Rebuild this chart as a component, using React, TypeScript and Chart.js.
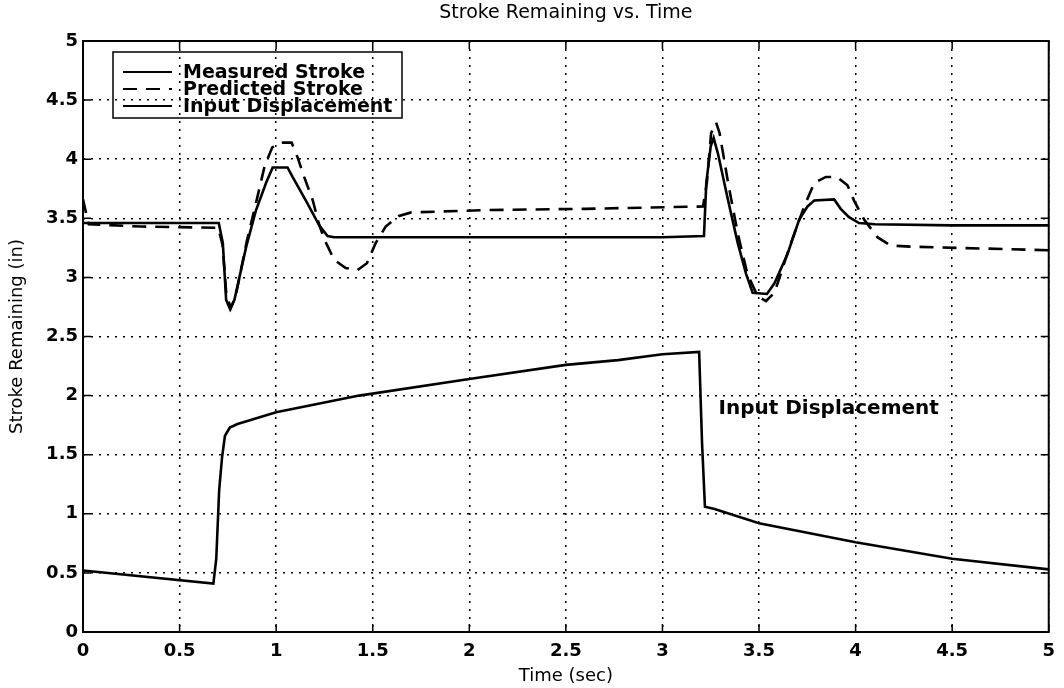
import React, { useEffect, useRef } from "react";
import { Chart, registerables } from "chart.js";

Chart.register(...registerables);

// ---------- data ----------
const chartTitle = "Stroke Remaining vs. Time";
const xAxisTitle = "Time (sec)";
const yAxisTitle = "Stroke Remaining (in)";

const xTicks = [0, 0.5, 1, 1.5, 2, 2.5, 3, 3.5, 4, 4.5, 5];
const xTickLabels = ["0", "0.5", "1", "1.5", "2", "2.5", "3", "3.5", "4", "4.5", "5"];
const yTicks = [0, 0.5, 1, 1.5, 2, 2.5, 3, 3.5, 4, 4.5, 5];
const yTickLabels = ["0", "0.5", "1", "1.5", "2", "2.5", "3", "3.5", "4", "4.5", "5"];

const seriesNames = ["Measured Stroke", "Predicted Stroke", "Input Displacement"];

const measuredTime = [0, 0.703, 0.724, 0.741, 0.762, 0.784, 0.845, 0.896, 0.948, 0.982, 1.059, 1.085, 1.154, 1.223, 1.266, 1.3, 2.0, 2.5, 3.0, 3.215, 3.227, 3.25, 3.265, 3.287, 3.34, 3.39, 3.433, 3.467, 3.541, 3.58, 3.648, 3.708, 3.751, 3.786, 3.889, 3.923, 3.966, 4.018, 4.1, 4.5, 5.0];
const measuredStroke = [3.46, 3.46, 3.29, 2.81, 2.73, 2.81, 3.26, 3.57, 3.8, 3.93, 3.93, 3.85, 3.65, 3.44, 3.35, 3.34, 3.34, 3.34, 3.34, 3.35, 3.8, 4.11, 4.18, 4.05, 3.65, 3.29, 3.03, 2.87, 2.86, 2.95, 3.2, 3.49, 3.6, 3.65, 3.66, 3.58, 3.51, 3.46, 3.45, 3.44, 3.44];

const predictedTime = [0, 0.015, 0.03, 0.3, 0.7, 0.722, 0.742, 0.765, 0.79, 0.85, 0.9, 0.94, 0.98, 1.02, 1.08, 1.11, 1.145, 1.19, 1.22, 1.25, 1.3, 1.36, 1.42, 1.47, 1.515, 1.567, 1.636, 1.7, 2.1, 2.6, 3.21, 3.23, 3.252, 3.278, 3.296, 3.34, 3.39, 3.44, 3.493, 3.536, 3.58, 3.665, 3.734, 3.786, 3.846, 3.903, 3.958, 3.992, 4.044, 4.113, 4.181, 4.284, 5.0];
const predictedStroke = [3.66, 3.55, 3.45, 3.43, 3.42, 3.28, 2.86, 2.74, 2.84, 3.32, 3.66, 3.94, 4.1, 4.14, 4.14, 4.02, 3.85, 3.65, 3.46, 3.32, 3.15, 3.08, 3.06, 3.12, 3.29, 3.43, 3.52, 3.55, 3.57, 3.58, 3.6, 3.8, 4.22, 4.31, 4.22, 3.8, 3.37, 3.03, 2.84, 2.8, 2.87, 3.29, 3.6, 3.8, 3.85, 3.85, 3.78, 3.65, 3.49, 3.34, 3.27, 3.26, 3.23];

const inputTime = [0, 0.675, 0.69, 0.705, 0.72, 0.735, 0.76, 0.8, 1.0, 1.43, 2.0, 2.5, 2.77, 3.0, 3.19, 3.205, 3.22, 3.27, 3.5, 4.0, 4.5, 5.0];
const inputDisplacement = [0.52, 0.41, 0.62, 1.2, 1.48, 1.66, 1.73, 1.76, 1.86, 2.0, 2.14, 2.26, 2.3, 2.35, 2.37, 1.6, 1.06, 1.04, 0.92, 0.76, 0.62, 0.53];

const annotationText = "Input Displacement";
const annotationTime = 3.29;
const annotationValue = 1.89;

// ---------- helpers ----------
const FONT = "'DejaVu Sans', sans-serif";

const toPoints = (xs: number[], ys: number[]) => xs.map((x, i) => ({ x, y: ys[i] }));

const labelFor = (vals: number[], labels: string[]) => (v: any) => {
  const n = Math.round(Number(v) * 2) / 2;
  const i = vals.indexOf(n);
  return i >= 0 ? labels[i] : "";
};

const framePlugin = {
  id: "matlabFrame",
  afterDraw(chart: any) {
    const { ctx, chartArea: a, scales } = chart;
    const xs = scales.x;
    const ys = scales.y;
    ctx.save();
    ctx.setLineDash([]);
    ctx.strokeStyle = "#000";
    // axes box
    ctx.lineWidth = 2;
    ctx.strokeRect(a.left, a.top, a.right - a.left, a.bottom - a.top);
    // inward ticks on all sides
    ctx.lineWidth = 1.5;
    const tl = 8;
    ctx.beginPath();
    for (const v of xTicks) {
      const px = xs.getPixelForValue(v);
      ctx.moveTo(px, a.bottom);
      ctx.lineTo(px, a.bottom - tl);
      ctx.moveTo(px, a.top);
      ctx.lineTo(px, a.top + tl);
    }
    for (const v of yTicks) {
      const py = ys.getPixelForValue(v);
      ctx.moveTo(a.left, py);
      ctx.lineTo(a.left + tl, py);
      ctx.moveTo(a.right, py);
      ctx.lineTo(a.right - tl, py);
    }
    ctx.stroke();

    // legend box
    const lx = a.left + 30;
    const ly = a.top + 11;
    const lw = 289;
    const lh = 66;
    ctx.lineWidth = 1.5;
    ctx.strokeRect(lx, ly, lw, lh);
    ctx.font = `bold 19px ${FONT}`;
    ctx.fillStyle = "#000";
    ctx.textAlign = "left";
    ctx.textBaseline = "middle";
    chart.data.datasets.forEach((ds: any, i: number) => {
      const ry = ly + 20 + i * 17;
      ctx.save();
      ctx.lineWidth = 2;
      ctx.setLineDash(ds.borderDash || []);
      ctx.beginPath();
      ctx.moveTo(lx + 10, ry);
      ctx.lineTo(lx + 59, ry);
      ctx.stroke();
      ctx.restore();
      ctx.fillText(ds.label, lx + 70, ry + 1);
    });

    // annotation
    ctx.font = `bold 20px ${FONT}`;
    ctx.fillText(annotationText, xs.getPixelForValue(annotationTime), ys.getPixelForValue(annotationValue));
    ctx.restore();
  },
};

export default function App() {
  const canvasRef = useRef<HTMLCanvasElement | null>(null);

  useEffect(() => {
    const canvas = canvasRef.current;
    if (!canvas) return;
    const chart = new Chart(canvas, {
      type: "scatter",
      data: {
        datasets: [
          {
            label: seriesNames[0],
            data: toPoints(measuredTime, measuredStroke),
            showLine: true,
            borderColor: "#000",
            borderWidth: 2.6,
            pointRadius: 0,
            tension: 0,
          },
          {
            label: seriesNames[1],
            data: toPoints(predictedTime, predictedStroke),
            showLine: true,
            borderColor: "#000",
            borderWidth: 2.6,
            borderDash: [14, 9],
            pointRadius: 0,
            tension: 0,
          },
          {
            label: seriesNames[2],
            data: toPoints(inputTime, inputDisplacement),
            showLine: true,
            borderColor: "#000",
            borderWidth: 2.6,
            pointRadius: 0,
            tension: 0,
          },
        ],
      },
      options: {
        animation: false,
        responsive: false,
        devicePixelRatio: 1,
        layout: { padding: { left: 0, right: 12, top: 0, bottom: 0 } },
        plugins: {
          legend: { display: false },
          tooltip: { enabled: false },
          title: {
            display: true,
            text: chartTitle,
            fullSize: false,
            color: "#000",
            font: { family: FONT, size: 19, weight: "normal" },
            padding: { top: 2, bottom: 16.2 },
          },
        },
        scales: {
          x: {
            type: "linear",
            min: 0,
            max: 5,
            afterFit: (s: any) => {
              s.height = 56;
            },
            ticks: {
              stepSize: 0.5,
              autoSkip: false,
              maxRotation: 0,
              padding: 9,
              color: "#000",
              font: { family: FONT, size: 18, weight: "bold" },
              callback: labelFor(xTicks, xTickLabels),
            },
            grid: { color: "#000", lineWidth: 1.5, drawTicks: false },
            border: { display: false, dash: [2, 6] },
            title: {
              display: true,
              text: xAxisTitle,
              color: "#000",
              font: { family: FONT, size: 18, weight: "normal" },
              padding: { top: 0, bottom: 1 },
            },
          },
          y: {
            type: "linear",
            min: 0,
            max: 5,
            afterFit: (s: any) => {
              s.width = 83;
            },
            ticks: {
              stepSize: 0.5,
              autoSkip: false,
              padding: 5,
              color: "#000",
              font: { family: FONT, size: 18, weight: "bold" },
              callback: labelFor(yTicks, yTickLabels),
            },
            grid: { color: "#000", lineWidth: 1.5, drawTicks: false },
            border: { display: false, dash: [2, 6] },
            title: {
              display: true,
              text: yAxisTitle,
              color: "#000",
              font: { family: FONT, size: 18, weight: "normal" },
              padding: { top: 7, bottom: 0 },
            },
          },
        },
      },
      plugins: [framePlugin],
    } as any);
    return () => chart.destroy();
  }, []);

  return (
    <div style={{ position: "absolute", left: 0, top: 0, width: 1064, height: 688, background: "#fff" }}>
      <canvas ref={canvasRef} width={1064} height={688} style={{ display: "block" }} />
    </div>
  );
}
